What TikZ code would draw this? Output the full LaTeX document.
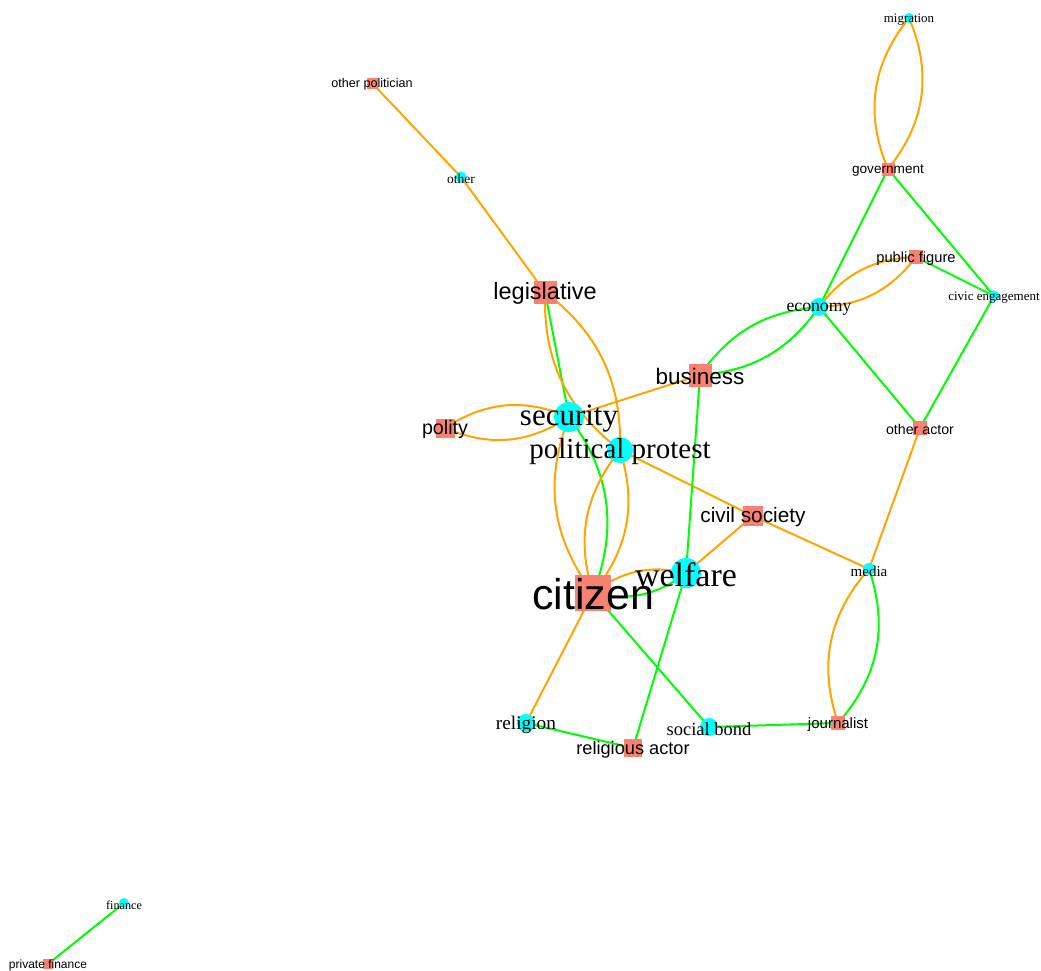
\documentclass[tikz,border=0pt]{standalone}
\usepackage{fontspec}
\setmainfont{Liberation Serif}
\setsansfont{Liberation Sans}
\usetikzlibrary{backgrounds}
\definecolor{actor}{HTML}{FA8072}
\definecolor{topic}{HTML}{00FFFF}
\definecolor{oedge}{HTML}{FFA500}
\definecolor{gedge}{HTML}{00FF00}
\newcommand{\fs}[1]{\fontsize{#1}{#1}\selectfont}
\tikzset{
  actornode/.style={rectangle, fill=actor, inner sep=0pt, minimum size=#1pt},
  topicnode/.style={circle, fill=topic, inner sep=0pt, minimum size=#1pt},
  alabel/.style={font=\sffamily\fs{#1}, inner sep=0pt, text=black, yshift=-1.5pt},
  tlabel/.style={font=\rmfamily\fs{#1}, inner sep=0pt, text=black, yshift=-2pt},
  oline/.style={draw=oedge, line width=2pt},
  gline/.style={draw=gedge, line width=2pt}
}
\begin{document}
\begin{tikzpicture}[x=1pt, y=-1pt]
                \useasboundingbox (0,0) rectangle (1041,970);
                \node [actornode=11, label={[alabel=12.6]center:other politician}] (otherpol) at (372,83) {};
                \node [topicnode=11, label={[tlabel=13.5]center:other}] (other) at (461,177) {};
                \node [actornode=23, label={[alabel=23.5]center:legislative}] (legis) at (545,292) {};
                \node [actornode=19, label={[alabel=19.7]center:polity}] (polity) at (445,428) {};
                \node [topicnode=30, label={[tlabel=31]center:security}] (secur) at (569,417) {};
                \node [topicnode=26, label={[tlabel=29]center:political protest}] (protest) at (620,450) {};
                \node [actornode=23, label={[alabel=22.5]center:business}] (busin) at (700,375) {};
                \node [actornode=20, label={[alabel=20.8]center:civil society}] (civsoc) at (753,516) {};
                \node [topicnode=30, label={[tlabel=34]center:welfare}] (welf) at (686,573) {};
                \node [actornode=36, label={[alabel=43]center:citizen}] (citiz) at (593,593) {};
                \node [topicnode=18, label={[tlabel=19.3]center:religion}] (relig) at (526,723) {};
                \node [actornode=18, label={[alabel=18.2]center:religious actor}] (religact) at (633,748) {};
                \node [topicnode=18, label={[tlabel=18.5]center:social bond}] (socbond) at (709,727) {};
                \node [actornode=14, label={[alabel=15]center:journalist}] (journ) at (838,723) {};
                \node [topicnode=12, label={[tlabel=15]center:media}] (media) at (869,569) {};
                \node [actornode=14, label={[alabel=14.2]center:other actor}] (othact) at (920,428) {};
                \node [topicnode=18, label={[tlabel=17.7]center:economy}] (econ) at (819,307) {};
                \node [actornode=14, label={[alabel=14.7]center:public figure}] (pubfig) at (916,257) {};
                \node [topicnode=11, label={[tlabel=13]center:civic engagement}] (civeng) at (994,296) {};
                \node [actornode=13, label={[alabel=13.6]center:government}] (govt) at (888,169) {};
                \node [topicnode=10, label={[tlabel=12.9]center:migration}] (migr) at (909,18) {};
                \node [topicnode=10, label={[tlabel=12.2]center:finance}] (fin) at (124,903) {};
                \node [actornode=10, label={[alabel=12]center:private finance}] (privfin) at (48,964) {};
                \begin{scope}[on background layer]
                \draw [oline] (otherpol.center) -- (other.center);
                \draw [oline] (other.center) -- (legis.center);
                \draw [gline] (legis.center) -- (secur.center);
                \draw [oline] (legis.center) to [bend left=27] (protest.center);
                \draw [oline] (legis.center) to [bend right=27] (protest.center);
                \draw [oline] (polity.center) to [bend left=28] (secur.center);
                \draw [oline] (polity.center) to [bend right=28] (secur.center);
                \draw [oline] (secur.center) -- (busin.center);
                \draw [oline] (secur.center) to [bend right=29] (citiz.center);
                \draw [gline] (secur.center) to [bend left=29] (citiz.center);
                \draw [oline] (protest.center) to [bend left=28] (citiz.center);
                \draw [oline] (protest.center) to [bend right=28] (citiz.center);
                \draw [oline] (protest.center) -- (civsoc.center);
                \draw [oline] (civsoc.center) -- (media.center);
                \draw [oline] (civsoc.center) -- (welf.center);
                \draw [oline] (citiz.center) to [bend left=25] (welf.center);
                \draw [gline] (citiz.center) to [bend right=25] (welf.center);
                \draw [gline] (busin.center) to [bend left=25] (econ.center);
                \draw [gline] (busin.center) to [bend right=25] (econ.center);
                \draw [gline] (busin.center) -- (welf.center);
                \draw [gline] (welf.center) -- (religact.center);
                \draw [oline] (citiz.center) -- (relig.center);
                \draw [gline] (relig.center) -- (religact.center);
                \draw [gline] (citiz.center) -- (socbond.center);
                \draw [gline] (socbond.center) -- (journ.center);
                \draw [oline] (media.center) to [bend right=30] (journ.center);
                \draw [gline] (media.center) to [bend left=30] (journ.center);
                \draw [oline] (othact.center) -- (media.center);
                \draw [gline] (econ.center) -- (othact.center);
                \draw [gline] (civeng.center) -- (othact.center);
                \draw [gline] (econ.center) -- (govt.center);
                \draw [gline] (govt.center) -- (civeng.center);
                \draw [oline] (econ.center) to [bend left=25] (pubfig.center);
                \draw [oline] (econ.center) to [bend right=25] (pubfig.center);
                \draw [gline] (pubfig.center) -- (civeng.center);
                \draw [oline] (migr.center) to [bend left=31] (govt.center);
                \draw [oline] (migr.center) to [bend right=31] (govt.center);
                \draw [gline] (fin.center) -- (privfin.center);
                \end{scope}
            \end{tikzpicture}
\end{document}
